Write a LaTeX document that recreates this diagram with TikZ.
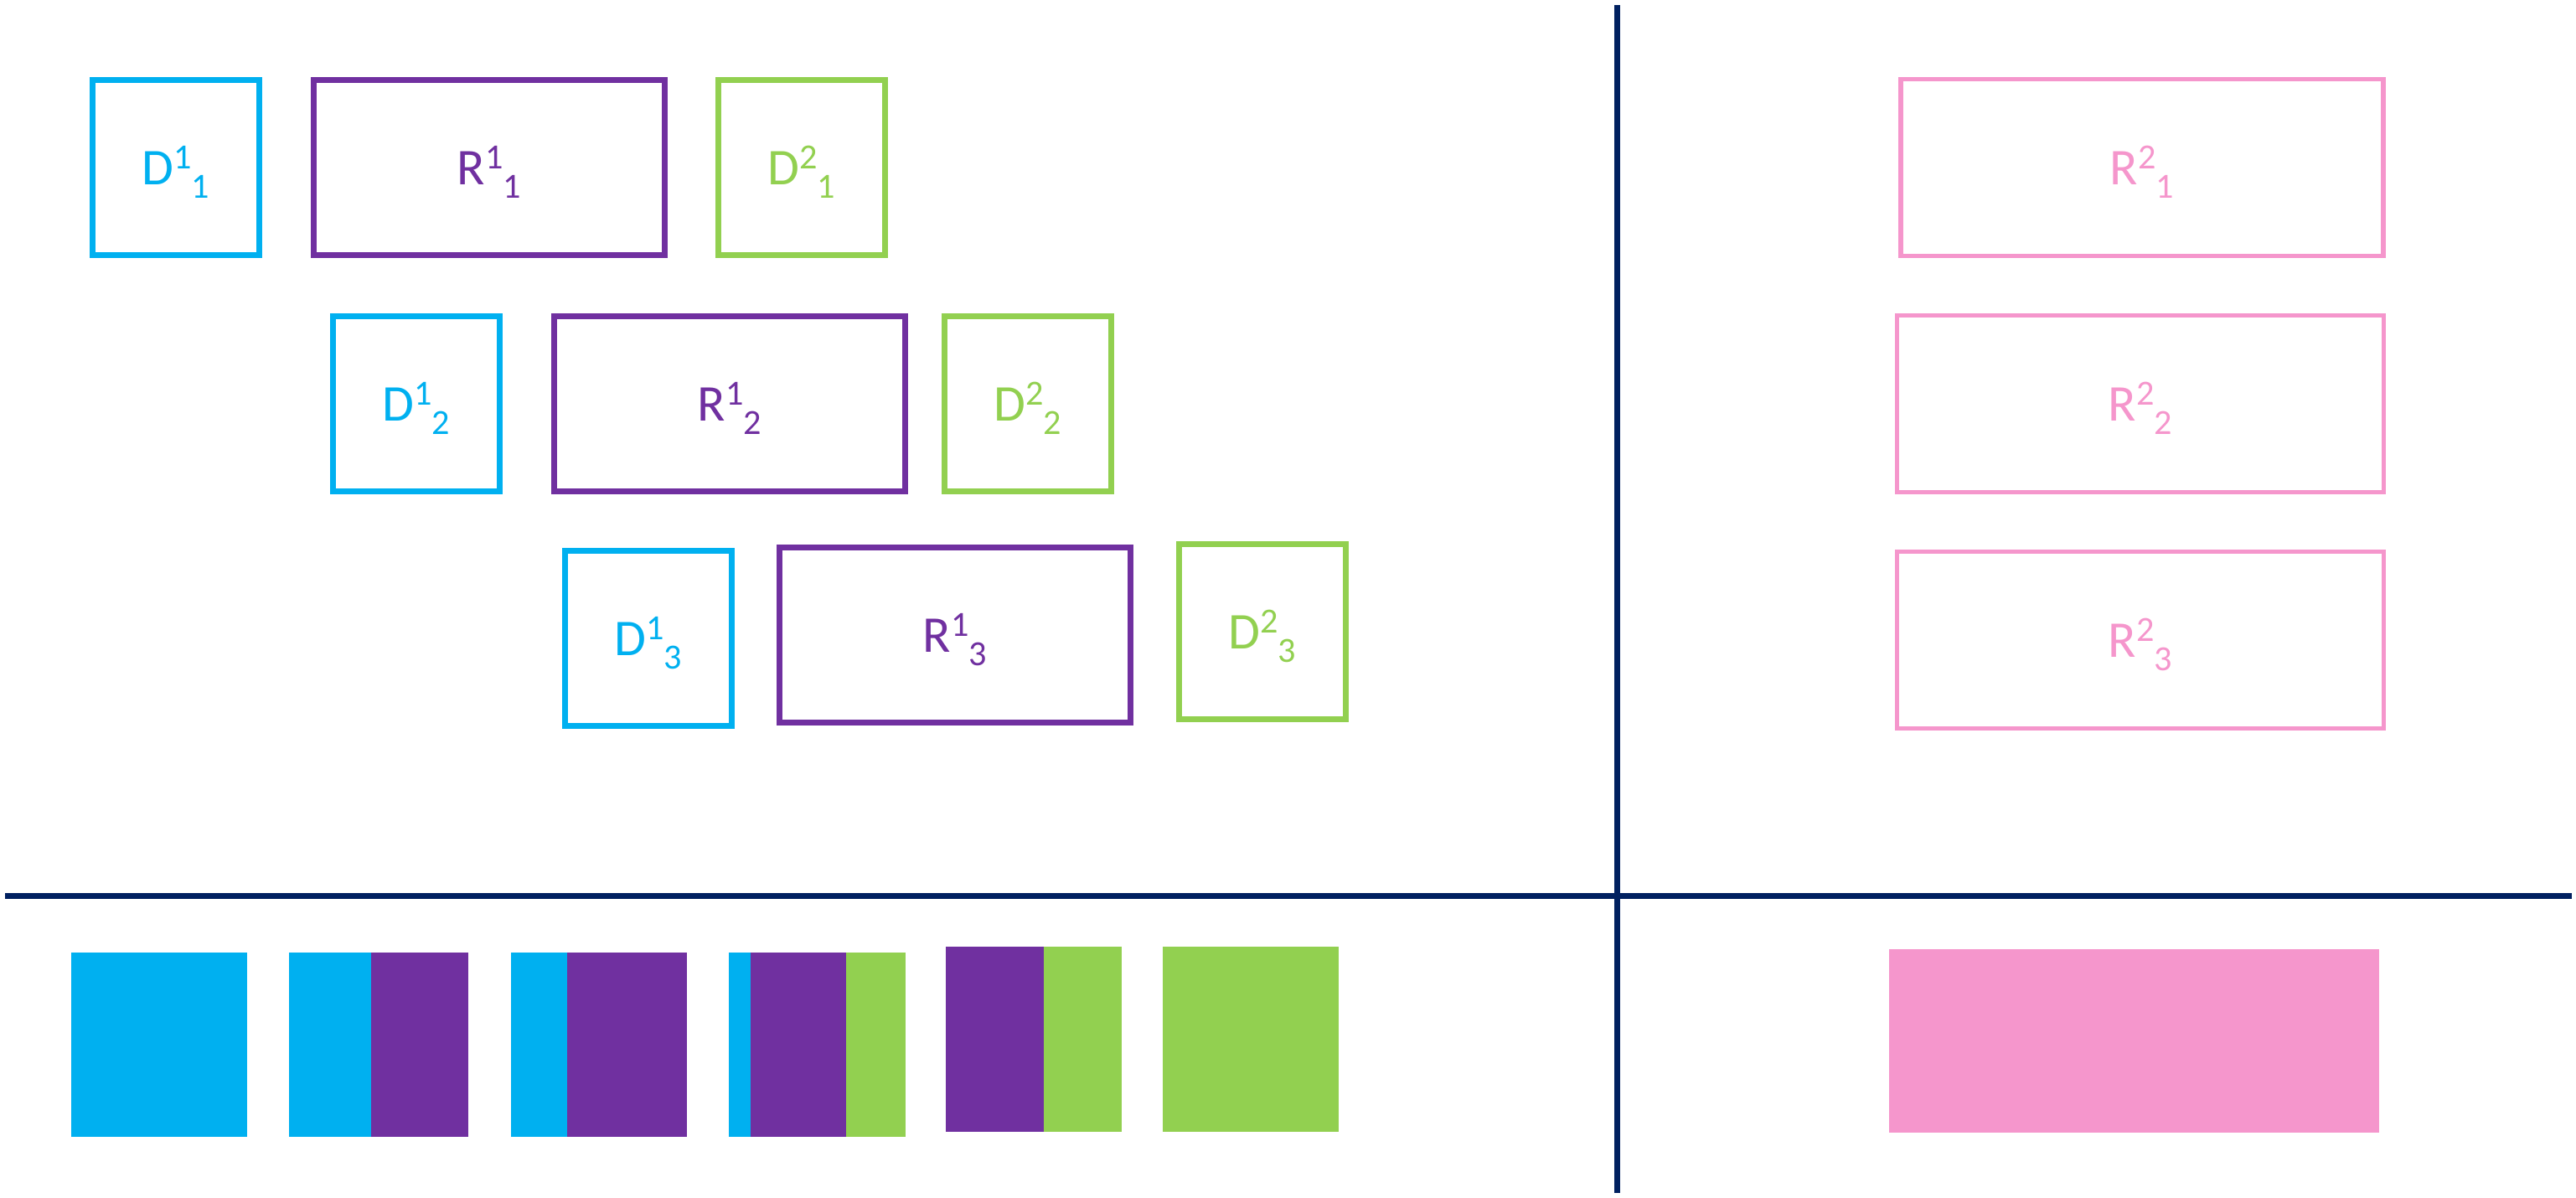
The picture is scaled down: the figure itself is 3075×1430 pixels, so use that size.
\documentclass[tikz,border=0pt]{standalone}
\usepackage{fontspec}
\setmainfont{Carlito}
\definecolor{cblue}{HTML}{00B0F0}
\definecolor{cpurple}{HTML}{7030A0}
\definecolor{cgreen}{HTML}{92D050}
\definecolor{cpink}{HTML}{F596CC}
\definecolor{cnavy}{HTML}{002060}
\newcommand{\lab}[3]{#1\raisebox{0.30em}{\fontsize{12}{12}\selectfont #2}\raisebox{-0.26em}{\fontsize{12}{12}\selectfont #3}}
\tikzset{
  dbox/.style={draw=#1, text=#1, line width=0.07cm, inner sep=0pt,
    minimum width=1.99cm, minimum height=2.09cm, text height=0.55cm, text depth=0.15cm,
    font=\fontsize{17.5}{21}\selectfont},
  rbox/.style={dbox=#1, minimum width=4.19cm},
  pbox/.style={draw=cpink, text=cpink, line width=0.055cm, inner sep=0pt,
    minimum width=#1, minimum height=2.11cm, text height=0.55cm, text depth=0.15cm,
    font=\fontsize{17.5}{21}\selectfont},
  axis/.style={draw=cnavy, line width=0.07cm}
}
\begin{document}
\begin{tikzpicture}[x=0.01cm,y=-0.01cm]
\useasboundingbox (0,0) rectangle (3075,1430);
% top left boxes
\node[dbox=cblue]   (d11) at (210,200)   {\lab{D}{1}{1}};
\node[rbox=cpurple] (r11) at (584,200)   {\lab{R}{1}{1}};
\node[dbox=cgreen]  (d21) at (957,200)   {\lab{D}{2}{1}};
\node[dbox=cblue]   (d12) at (497,482)   {\lab{D}{1}{2}};
\node[rbox=cpurple] (r12) at (871,482)   {\lab{R}{1}{2}};
\node[dbox=cgreen]  (d22) at (1227,482)  {\lab{D}{2}{2}};
\node[dbox=cblue]   (d13) at (774,762)   {\lab{D}{1}{3}};
\node[rbox=cpurple] (r13) at (1140,758)  {\lab{R}{1}{3}};
\node[dbox=cgreen]  (d23) at (1507,754)  {\lab{D}{2}{3}};
% right boxes
\node[pbox=5.76cm] (r21) at (2557,200) {\lab{R}{2}{1}};
\node[pbox=5.81cm] (r22) at (2555,482) {\lab{R}{2}{2}};
\node[pbox=5.81cm] (r23) at (2555,764) {\lab{R}{2}{3}};
% axes
\coordinate (vt) at (1930,6);
\coordinate (vb) at (1930,1424);
\coordinate (hl) at (6,1069);
\coordinate (hr) at (3070,1069);
\draw[axis] (vt) -- (vb);
\draw[axis] (hl) -- (hr);
% bottom bars
\fill[cblue]   (85,1137) rectangle (295,1357);
\fill[cblue]   (345,1137) rectangle (443,1357);
\fill[cpurple] (443,1137) rectangle (559,1357);
\fill[cblue]   (610,1137) rectangle (677,1357);
\fill[cpurple] (677,1137) rectangle (820,1357);
\fill[cblue]   (870,1137) rectangle (896,1357);
\fill[cpurple] (896,1137) rectangle (1010,1357);
\fill[cgreen]  (1010,1137) rectangle (1081,1357);
\fill[cpurple] (1129,1130) rectangle (1246,1351);
\fill[cgreen]  (1246,1130) rectangle (1339,1351);
\fill[cgreen]  (1388,1130) rectangle (1598,1351);
\fill[cpink]   (2255,1133) rectangle (2840,1352);
\end{tikzpicture}
\end{document}
